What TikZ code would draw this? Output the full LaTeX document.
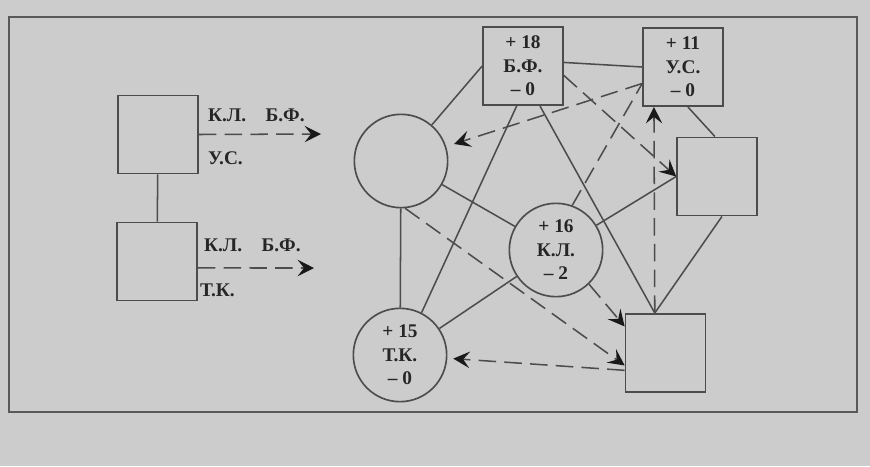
\documentclass[tikz,border=0pt]{standalone}
\usepackage{fontspec}
\setmainfont{Liberation Serif}
\usetikzlibrary{arrows.meta, positioning, calc}

\begin{document}
\begin{tikzpicture}[x=0.03cm, y=-0.03cm,
    every node/.style={font=\fontsize{16.5}{20}\selectfont\bfseries, text=black!85},
    sqbox/.style={draw=black!70, line width=1.4pt, rectangle, minimum width=2.4cm, minimum height=2.35cm, inner sep=0pt, align=center},
    rnd/.style={draw=black!70, line width=1.4pt, circle, minimum size=2.8cm, inner sep=0pt, align=center},
    link/.style={draw=black!70, line width=1.3pt},
    dlink/.style={link, dash pattern=on 15pt off 7pt},
    darrow/.style={dlink, -{Stealth[length=14pt, width=14pt, inset=5.5pt, color=black!90, fill=black!90]}}]

    % page and frame
    \fill[black!20] (0,0) rectangle (870,466);
    \useasboundingbox (0,0) rectangle (870,466);
    \draw[black!65, line width=1.5pt] (9,17) rectangle (857,412);

    % left pair of boxes
    \node[sqbox] (leftUS) at (158,134.5) {};
    \node[sqbox] (leftTK) at (157,261.5) {};
    \draw[link] (leftUS) -- (leftTK);

    \coordinate (usEnd) at (321,134);
    \coordinate (tkEnd) at (314,268);
    \draw[darrow] (leftUS.east) -- (usEnd);
    \draw[darrow] (leftTK.-9) -- (tkEnd);

    \node[anchor=west] (usTop) at (204,115) {К.Л.\quad Б.Ф.};
    \node[anchor=west] (usBot) at (204,158) {У.С.};
    \node[anchor=west] (tkTop) at (200,245) {К.Л.\quad Б.Ф.};
    \node[anchor=west] (tkBot) at (196,290) {Т.К.};

    % graph
    \node[rnd] (circ) at (401,161) {};
    \node[rnd] (kl) at (556,250) {+ 16\\К.Л.\\– 2};
    \node[rnd] (tk) at (400,355) {+ 15\\Т.К.\\– 0};
    \node[sqbox] (bf) at (523,66) {+ 18\\Б.Ф.\\– 0};
    \node[sqbox] (us) at (683,67) {+ 11\\У.С.\\– 0};
    \node[sqbox] (boxR) at (717,176.5) {};
    \node[sqbox] (boxB) at (665.5,353) {};

    % solid links
    \draw[link] (circ) -- (bf.west);
    \draw[link] (bf.5) -- (us.west);
    \draw[link] (bf.261) -- (tk.63);
    \draw[link] (bf.293) -- (boxB.105);
    \draw[link] (us.277) -- (boxR.93);
    \draw[link] (boxR.277) -- (boxB.105);
    \draw[link] (circ) -- (kl);
    \draw[link] (circ) -- (tk);
    \draw[link] (kl) -- (boxR.west);
    \draw[link] (kl) -- (tk);

    % dashed links
    \draw[dlink] (kl.70) -- (us.202);
    \draw[darrow, shorten >=7pt] (us.202) -- (circ);
    \draw[darrow] (bf.-13) -- (boxR.west);
    \draw[darrow] (boxB.105) -- (us.234);
    \draw[darrow] (circ.275) -- (boxB.197);
    \draw[darrow] (kl.-46) -- (boxB.147);
    \draw[darrow, shorten >=5pt] (boxB.203) -- (tk);
\end{tikzpicture}
\end{document}
